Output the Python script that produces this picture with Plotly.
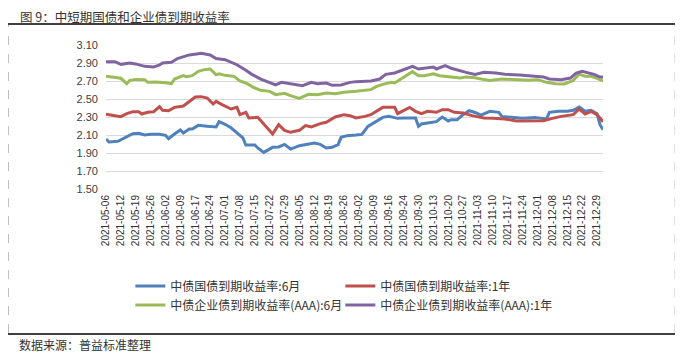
import pandas as pd
import plotly.graph_objects as go

# ---- trading-day categories (China bond market, 2021-05-06 .. 2021-12-31) ----
holidays = ["2021-06-14", "2021-09-20", "2021-09-21", "2021-10-01",
            "2021-10-04", "2021-10-05", "2021-10-06", "2021-10-07"]
working_weekends = ["2021-05-08", "2021-09-18", "2021-09-26", "2021-10-09"]
days = pd.bdate_range("2021-05-06", "2021-12-31").strftime("%Y-%m-%d").tolist()
days = sorted([d for d in days if d not in holidays] + working_weekends)
tick_labels = days[::5]

# ---- series ----
gov6m_dates = ["2021-05-06", "2021-05-07", "2021-05-11", "2021-05-13", "2021-05-18", "2021-05-20",
               "2021-05-24", "2021-05-26", "2021-05-31", "2021-06-02", "2021-06-03", "2021-06-07",
               "2021-06-09", "2021-06-10", "2021-06-15", "2021-06-16", "2021-06-18", "2021-06-23",
               "2021-06-28", "2021-06-29", "2021-07-01", "2021-07-05", "2021-07-07", "2021-07-09",
               "2021-07-12", "2021-07-15", "2021-07-16", "2021-07-20", "2021-07-23", "2021-07-27",
               "2021-07-29", "2021-08-02", "2021-08-05", "2021-08-09", "2021-08-12", "2021-08-16",
               "2021-08-18", "2021-08-20", "2021-08-24", "2021-08-25", "2021-08-27", "2021-09-01",
               "2021-09-03", "2021-09-07", "2021-09-09", "2021-09-14", "2021-09-16", "2021-09-22",
               "2021-09-24", "2021-09-28", "2021-09-29", "2021-09-30", "2021-10-08", "2021-10-11",
               "2021-10-14", "2021-10-18", "2021-10-20", "2021-10-21", "2021-10-25", "2021-10-27",
               "2021-10-29", "2021-11-02", "2021-11-04", "2021-11-09", "2021-11-12", "2021-11-15",
               "2021-11-18", "2021-11-24", "2021-11-30", "2021-12-06", "2021-12-07", "2021-12-10",
               "2021-12-15", "2021-12-17", "2021-12-21", "2021-12-23", "2021-12-27", "2021-12-29",
               "2021-12-30", "2021-12-31"]
gov6m = [2.056, 2.022, 2.030, 2.063, 2.115, 2.119,
         2.100, 2.107, 2.107, 2.096, 2.059, 2.111,
         2.156, 2.122, 2.167, 2.167, 2.207, 2.196,
         2.189, 2.248, 2.219, 2.180, 2.122, 2.067,
         1.989, 1.989, 1.956, 1.907, 1.963, 1.967,
         1.996, 1.944, 1.981, 1.993, 2.011, 1.996,
         1.956, 1.963, 1.993, 2.074, 2.093, 2.100,
         2.107, 2.196, 2.233, 2.296, 2.307, 2.285,
         2.289, 2.289, 2.289, 2.196, 2.222, 2.233,
         2.248, 2.300, 2.256, 2.270, 2.270, 2.326,
         2.370, 2.350, 2.320, 2.363, 2.352, 2.307,
         2.300, 2.285, 2.293, 2.278, 2.352, 2.363,
         2.363, 2.374, 2.411, 2.363, 2.374, 2.337,
         2.215, 2.159]

gov1y_dates = ["2021-05-06", "2021-05-10", "2021-05-12", "2021-05-14", "2021-05-18", "2021-05-20",
               "2021-05-21", "2021-05-25", "2021-05-27", "2021-05-31", "2021-06-01", "2021-06-03",
               "2021-06-07", "2021-06-10", "2021-06-15", "2021-06-17", "2021-06-21", "2021-06-23",
               "2021-06-25", "2021-06-28", "2021-06-30", "2021-07-02", "2021-07-05", "2021-07-07",
               "2021-07-08", "2021-07-12", "2021-07-13", "2021-07-16", "2021-07-19", "2021-07-21",
               "2021-07-23", "2021-07-27", "2021-07-29", "2021-08-02", "2021-08-05", "2021-08-09",
               "2021-08-11", "2021-08-16", "2021-08-18", "2021-08-23", "2021-08-26", "2021-08-30",
               "2021-09-01", "2021-09-06", "2021-09-08", "2021-09-14", "2021-09-17", "2021-09-18",
               "2021-09-22", "2021-09-24", "2021-09-27", "2021-09-29", "2021-10-08", "2021-10-11",
               "2021-10-14", "2021-10-18", "2021-10-20", "2021-10-22", "2021-10-27", "2021-11-01",
               "2021-11-04", "2021-11-05", "2021-11-10", "2021-11-16", "2021-11-22", "2021-11-26",
               "2021-12-03", "2021-12-08", "2021-12-13", "2021-12-17", "2021-12-21", "2021-12-23",
               "2021-12-27", "2021-12-29", "2021-12-31"]
gov1y = [2.330, 2.319, 2.304, 2.337, 2.359, 2.359,
         2.333, 2.352, 2.359, 2.415, 2.374, 2.370,
         2.407, 2.422, 2.467, 2.522, 2.526, 2.511,
         2.444, 2.474, 2.437, 2.410, 2.389, 2.407,
         2.326, 2.352, 2.289, 2.296, 2.259, 2.178,
         2.111, 2.215, 2.152, 2.130, 2.152, 2.204,
         2.189, 2.226, 2.241, 2.300, 2.326, 2.315,
         2.290, 2.307, 2.326, 2.407, 2.404, 2.407,
         2.337, 2.374, 2.407, 2.363, 2.337, 2.363,
         2.352, 2.381, 2.381, 2.352, 2.344, 2.315,
         2.300, 2.289, 2.285, 2.278, 2.256, 2.256,
         2.259, 2.285, 2.307, 2.326, 2.389, 2.333,
         2.363, 2.326, 2.248]

corp6m_dates = ["2021-05-06", "2021-05-10", "2021-05-12", "2021-05-14", "2021-05-17", "2021-05-19",
                "2021-05-24", "2021-05-25", "2021-05-28", "2021-06-02", "2021-06-04", "2021-06-07",
                "2021-06-10", "2021-06-11", "2021-06-16", "2021-06-18", "2021-06-22", "2021-06-24",
                "2021-06-28", "2021-06-29", "2021-07-01", "2021-07-06", "2021-07-08", "2021-07-12",
                "2021-07-15", "2021-07-19", "2021-07-22", "2021-07-26", "2021-07-29", "2021-08-02",
                "2021-08-05", "2021-08-10", "2021-08-13", "2021-08-18", "2021-08-23", "2021-08-26",
                "2021-08-30", "2021-09-01", "2021-09-08", "2021-09-10", "2021-09-14", "2021-09-17",
                "2021-09-18", "2021-09-23", "2021-09-26", "2021-09-28", "2021-09-30", "2021-10-09",
                "2021-10-13", "2021-10-15", "2021-10-21", "2021-10-26", "2021-10-28", "2021-11-02",
                "2021-11-04", "2021-11-09", "2021-11-15", "2021-11-22", "2021-11-26", "2021-12-01",
                "2021-12-06", "2021-12-09", "2021-12-14", "2021-12-17", "2021-12-21", "2021-12-23",
                "2021-12-27", "2021-12-29", "2021-12-31"]
corp6m = [2.752, 2.741, 2.730, 2.670, 2.707, 2.718,
          2.715, 2.685, 2.689, 2.680, 2.670, 2.722,
          2.759, 2.748, 2.759, 2.807, 2.826, 2.833,
          2.770, 2.780, 2.763, 2.752, 2.700, 2.678,
          2.622, 2.596, 2.585, 2.548, 2.563, 2.537,
          2.507, 2.552, 2.548, 2.567, 2.559, 2.574,
          2.578, 2.585, 2.604, 2.641, 2.663, 2.685,
          2.678, 2.722, 2.759, 2.804, 2.759, 2.759,
          2.781, 2.759, 2.744, 2.733, 2.744, 2.737,
          2.722, 2.707, 2.722, 2.715, 2.707, 2.715,
          2.685, 2.670, 2.667, 2.707, 2.778, 2.752,
          2.752, 2.730, 2.700]

corp1y_dates = ["2021-05-06", "2021-05-10", "2021-05-12", "2021-05-17", "2021-05-19", "2021-05-24",
                "2021-05-27", "2021-05-31", "2021-06-01", "2021-06-04", "2021-06-08", "2021-06-10",
                "2021-06-15", "2021-06-18", "2021-06-21", "2021-06-24", "2021-06-28", "2021-07-01",
                "2021-07-05", "2021-07-07", "2021-07-12", "2021-07-14", "2021-07-19", "2021-07-22",
                "2021-07-26", "2021-07-28", "2021-08-02", "2021-08-06", "2021-08-11", "2021-08-13",
                "2021-08-18", "2021-08-20", "2021-08-25", "2021-08-27", "2021-08-30", "2021-09-01",
                "2021-09-08", "2021-09-13", "2021-09-15", "2021-09-18", "2021-09-23", "2021-09-26",
                "2021-09-28", "2021-09-30", "2021-10-09", "2021-10-13", "2021-10-14", "2021-10-19",
                "2021-10-21", "2021-10-26", "2021-10-28", "2021-11-02", "2021-11-05", "2021-11-11",
                "2021-11-16", "2021-11-23", "2021-11-29", "2021-12-03", "2021-12-07", "2021-12-13",
                "2021-12-16", "2021-12-20", "2021-12-22", "2021-12-24", "2021-12-28", "2021-12-30",
                "2021-12-31"]
corp1y = [2.915, 2.915, 2.885, 2.900, 2.890, 2.863,
          2.855, 2.878, 2.900, 2.907, 2.950, 2.967,
          2.990, 3.004, 3.007, 2.990, 2.950, 2.937,
          2.910, 2.881, 2.819, 2.774, 2.722, 2.685,
          2.656, 2.685, 2.667, 2.648, 2.685, 2.670,
          2.678, 2.652, 2.656, 2.678, 2.685, 2.693,
          2.700, 2.722, 2.774, 2.789, 2.811, 2.833,
          2.863, 2.833, 2.841, 2.855, 2.833, 2.870,
          2.841, 2.811, 2.796, 2.774, 2.796, 2.789,
          2.774, 2.767, 2.752, 2.744, 2.722, 2.715,
          2.733, 2.789, 2.807, 2.789, 2.774, 2.744,
          2.744]

series = [
    ("中债国债到期收益率:6月", gov6m_dates, gov6m, "#4F81BD", "legend"),
    ("中债企业债到期收益率(AAA):6月", corp6m_dates, corp6m, "#9BBB59", "legend"),
    ("中债国债到期收益率:1年", gov1y_dates, gov1y, "#C0504D", "legend2"),
    ("中债企业债到期收益率(AAA):1年", corp1y_dates, corp1y, "#8064A2", "legend2"),
]

y_ticks = [1.50, 1.70, 1.90, 2.10, 2.30, 2.50, 2.70, 2.90, 3.10]

CJK = "Noto Sans CJK SC"

fig = go.Figure()
for name, xs, ys, color, leg in series:
    fig.add_trace(go.Scatter(x=xs, y=ys, mode="lines", name=name, legend=leg,
                             line=dict(color=color, width=3)))

legend_style = dict(orientation="v", yanchor="top", xanchor="left", y=-0.573,
                    font=dict(family=CJK, size=12, color="#333333"),
                    tracegroupgap=0, itemwidth=30, bgcolor="rgba(0,0,0,0)")

# page body has an 8px margin, so the figure is 8px smaller and offset
fig.update_layout(
    width=675, height=349,
    margin=dict(l=98, r=80, t=37, b=168),
    paper_bgcolor="white", plot_bgcolor="white",
    showlegend=True,
    legend=dict(x=0.049, **legend_style),
    legend2=dict(x=0.4715, **legend_style),
    xaxis=dict(type="category", categoryorder="array", categoryarray=days,
               range=[0, len(days) - 1], tickmode="array", tickvals=tick_labels,
               ticktext=tick_labels, tickangle=-90, showgrid=False, showline=False,
               zeroline=False, ticks="", ticklabelstandoff=3,
               tickfont=dict(family="Liberation Sans", size=10, color="#333333")),
    yaxis=dict(range=[1.5, 3.1], tickmode="array", tickvals=y_ticks,
               ticktext=[f"{v:.2f}" for v in y_ticks],
               showgrid=True, gridcolor="#D9D9D9", gridwidth=1, zeroline=False,
               showline=False, ticks="", ticklabelstandoff=7,
               tickfont=dict(family="Liberation Sans", size=11, color="#404040")),
)

# title, rules and source note
fig.add_annotation(text="图 9：中短期国债和企业债到期收益率", xref="paper", yref="paper",
                   x=-88 / 497, y=1 + 29 / 144, xanchor="left", yanchor="middle",
                   showarrow=False,
                   font=dict(family=CJK, size=12.5, color="#333333"))
fig.add_annotation(text="数据来源：普益标准整理", xref="paper", yref="paper",
                   x=-89 / 497, y=-156 / 144, xanchor="left", yanchor="middle",
                   showarrow=False,
                   font=dict(family=CJK, size=12, color="#333333"))
fig.add_shape(type="line", xref="paper", yref="paper", x0=-98 / 497, x1=577 / 497,
              y0=1 + 21 / 144, y1=1 + 21 / 144, line=dict(color="black", width=1.5))
fig.add_shape(type="line", xref="paper", yref="paper", x0=-98 / 497, x1=577 / 497,
              y0=-145 / 144, y1=-145 / 144, line=dict(color="black", width=1.5))
for xp in (-97.5 / 497, 569 / 497):
    fig.add_shape(type="line", xref="paper", yref="paper", x0=xp, x1=xp,
                  y0=-144 / 144, y1=1 + 20 / 144,
                  line=dict(color="#BFBFBF", width=1, dash="dash"))

fig.write_html("out.html")
